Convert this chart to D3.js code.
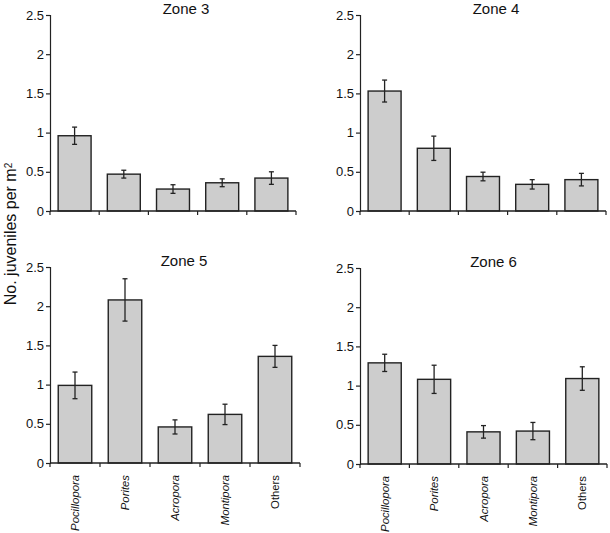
<!DOCTYPE html>
<html>
<head>
<meta charset="utf-8">
<script src="https://cdn.jsdelivr.net/npm/d3@7"></script>
<style>
  html, body { margin: 0; padding: 0; background: #fff; }
  svg { display: block; }
  text { font-family: "Liberation Sans", Arial, Helvetica, sans-serif; fill: #111; }
</style>
</head>
<body>
<svg id="chart" width="610" height="533"></svg>
<script>
// ---- data ----
const categories = ["Pocillopora", "Porites", "Acropora", "Montipora", "Others"];
const italicCats = [true, true, true, true, false];
const zones = ["Zone 3", "Zone 4", "Zone 5", "Zone 6"];
const zone3Means = [0.96, 0.47, 0.28, 0.36, 0.42];
const zone3Errors = [0.11, 0.05, 0.055, 0.05, 0.08];
const zone4Means = [1.53, 0.80, 0.44, 0.34, 0.40];
const zone4Errors = [0.14, 0.155, 0.055, 0.06, 0.08];
const zone5Means = [0.99, 2.08, 0.46, 0.62, 1.36];
const zone5Errors = [0.17, 0.27, 0.09, 0.13, 0.14];
const zone6Means = [1.29, 1.08, 0.41, 0.42, 1.09];
const zone6Errors = [0.11, 0.18, 0.08, 0.11, 0.15];
const yTicks = [0, 0.5, 1, 1.5, 2, 2.5];
const yTickLabels = ["0", "0.5", "1", "1.5", "2", "2.5"];
const yLabel = "No. juveniles per m";

const seriesMeans = [zone3Means, zone4Means, zone5Means, zone6Means];
const seriesErrors = [zone3Errors, zone4Errors, zone5Errors, zone6Errors];

// ---- layout ----
const panels = [
  { x0: 50,  x1: 296, y0: 15,  y1: 211, tdx: 13 },
  { x0: 360, x1: 606, y0: 15,  y1: 211, tdx: 13 },
  { x0: 50,  x1: 300, y0: 267, y1: 463, tdx: 9 },
  { x0: 360, x1: 607, y0: 268, y1: 464, tdx: 10 }
];

const svg = d3.select("#chart");
const stroke = "#222";

panels.forEach((p, i) => {
  const g = svg.append("g");
  const x = d3.scaleBand().domain(categories).range([p.x0, p.x1])
    .paddingInner(0.33).paddingOuter(0.165);
  const y = d3.scaleLinear().domain([0, 2.5]).range([p.y1, p.y0]);

  // y axis
  const yAxis = d3.axisLeft(y).tickValues(yTicks)
    .tickFormat((d, k) => yTickLabels[k]).tickSize(4).tickPadding(2);
  const ya = g.append("g").attr("transform", `translate(${p.x0},0)`).call(yAxis);
  ya.select(".domain").attr("stroke", stroke).attr("stroke-width", 1.2);
  ya.selectAll(".tick line").attr("stroke", stroke).attr("stroke-width", 1.2);
  ya.selectAll(".tick text").style("font-size", "13px").attr("fill", "#111")
    .style("font-family", '"Liberation Sans", Arial, sans-serif');

  // bars
  const means = seriesMeans[i], errs = seriesErrors[i];
  g.selectAll("rect.bar").data(categories).enter().append("rect")
    .attr("class", "bar")
    .attr("x", d => x(d))
    .attr("width", x.bandwidth())
    .attr("y", (d, k) => y(means[k]))
    .attr("height", (d, k) => y(0) - y(means[k]))
    .attr("fill", "#cdcdcd")
    .attr("stroke", stroke)
    .attr("stroke-width", 1.4);

  // error bars
  const eb = g.selectAll("g.err").data(categories).enter().append("g").attr("class", "err");
  eb.append("line")
    .attr("x1", d => x(d) + x.bandwidth() / 2).attr("x2", d => x(d) + x.bandwidth() / 2)
    .attr("y1", (d, k) => y(means[k] + errs[k])).attr("y2", (d, k) => y(means[k] - errs[k]))
    .attr("stroke", stroke).attr("stroke-width", 1.3);
  [1, -1].forEach(s => {
    eb.append("line")
      .attr("x1", d => x(d) + x.bandwidth() / 2 - 2.5).attr("x2", d => x(d) + x.bandwidth() / 2 + 2.5)
      .attr("y1", (d, k) => y(means[k] + s * errs[k])).attr("y2", (d, k) => y(means[k] + s * errs[k]))
      .attr("stroke", stroke).attr("stroke-width", 1.3);
  });

  // x axis line and category separator ticks
  g.append("line").attr("x1", p.x0).attr("x2", p.x1).attr("y1", y(0)).attr("y2", y(0))
    .attr("stroke", stroke).attr("stroke-width", 1.3);
  const boundaries = d3.range(categories.length + 1).map(k => p.x0 + k * x.step());
  g.selectAll("line.xt").data(boundaries).enter().append("line").attr("class", "xt")
    .attr("x1", d => d).attr("x2", d => d).attr("y1", y(0)).attr("y2", y(0) + 4)
    .attr("stroke", stroke).attr("stroke-width", 1.2);

  // title
  g.append("text").attr("x", (p.x0 + p.x1) / 2 + p.tdx).attr("y", p.y0 - 1.5)
    .attr("text-anchor", "middle").style("font-size", "15px").text(zones[i]);

  // category labels (bottom panels only)
  if (i >= 2) {
    g.selectAll("text.cat").data(categories).enter().append("text").attr("class", "cat")
      .attr("transform", d => `translate(${x(d) + x.bandwidth() / 2 + 4},${y(0) + 12}) rotate(-90)`)
      .attr("text-anchor", "end")
      .style("font-size", "11.3px")
      .style("font-style", (d, k) => italicCats[k] ? "italic" : "normal")
      .text(d => d);
  }
});

// y axis label
const yl = svg.append("text")
  .attr("transform", "translate(16,234) rotate(-90)")
  .attr("text-anchor", "middle")
  .style("font-size", "16px");
yl.append("tspan").text(yLabel);
yl.append("tspan").attr("dy", "-0.45em").style("font-size", "10px").text("2");
</script>
</body>
</html>
